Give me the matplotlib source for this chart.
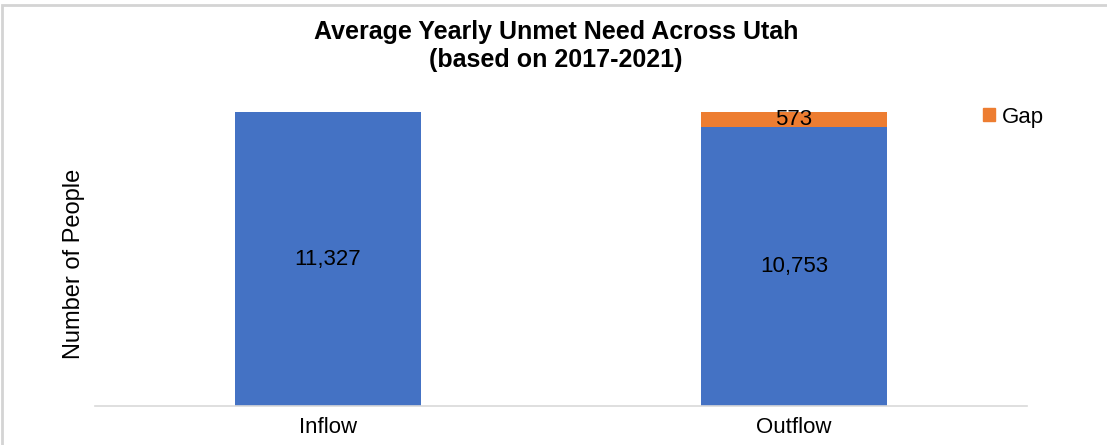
import matplotlib.pyplot as plt
from matplotlib.patches import Rectangle, Patch

categories = ["Inflow", "Outflow"]
served = [11327, 10753]
gap = [0, 573]

plt.rcParams['font.family'] = ['Liberation Sans', 'DejaVu Sans']

fig = plt.figure(figsize=(11.07, 4.45), dpi=100)
# light frame round the chart area
fig.patches.append(Rectangle((0.002, -0.01), 1.2, 0.999, transform=fig.transFigure,
                             fill=False, edgecolor="#d4d4d4", linewidth=2))
ax = fig.add_axes([0.0858, 0.0876, 0.842, 0.699])

x = range(len(categories))
ax.bar(x, served, width=0.4, color="#4472c4", zorder=2)
ax.bar(x, gap, width=0.4, bottom=served, color="#ed7d31", zorder=2)

for i in x:
    ax.text(i, served[i] / 2, f"{served[i]:,}", ha="center", va="center", fontsize=16)
    if gap[i] > 0:
        ax.text(i, served[i] + gap[i] / 2, f"{gap[i]:,}", ha="center", va="center", fontsize=16)

ax.set_xlim(-0.5, 1.5)
ax.set_ylim(0, 12000)
ax.set_yticks([])
ax.set_xticks(list(x))
ax.set_xticklabels(categories, fontsize=16)
ax.tick_params(axis="x", length=0, pad=8)
for s in ["top", "right", "left"]:
    ax.spines[s].set_visible(False)
ax.spines["bottom"].set_color("#d9d9d9")
ax.spines["bottom"].set_linewidth(1.2)
ax.set_ylabel("Number of People", fontsize=17)
ax.yaxis.set_label_coords(-0.011, 0.457)

fig.text(0.502, 0.897, "Average Yearly Unmet Need Across Utah\n(based on 2017-2021)",
         ha="center", va="center", fontsize=18, fontweight="bold", linespacing=1.2)

fig.legend(handles=[Patch(color="#ed7d31", label="Gap")], loc="center left",
           bbox_to_anchor=(0.870, 0.737), frameon=False, fontsize=16,
           handlelength=0.55, handleheight=0.55, handletextpad=0.3)

fig.savefig("out.png", dpi=100)
